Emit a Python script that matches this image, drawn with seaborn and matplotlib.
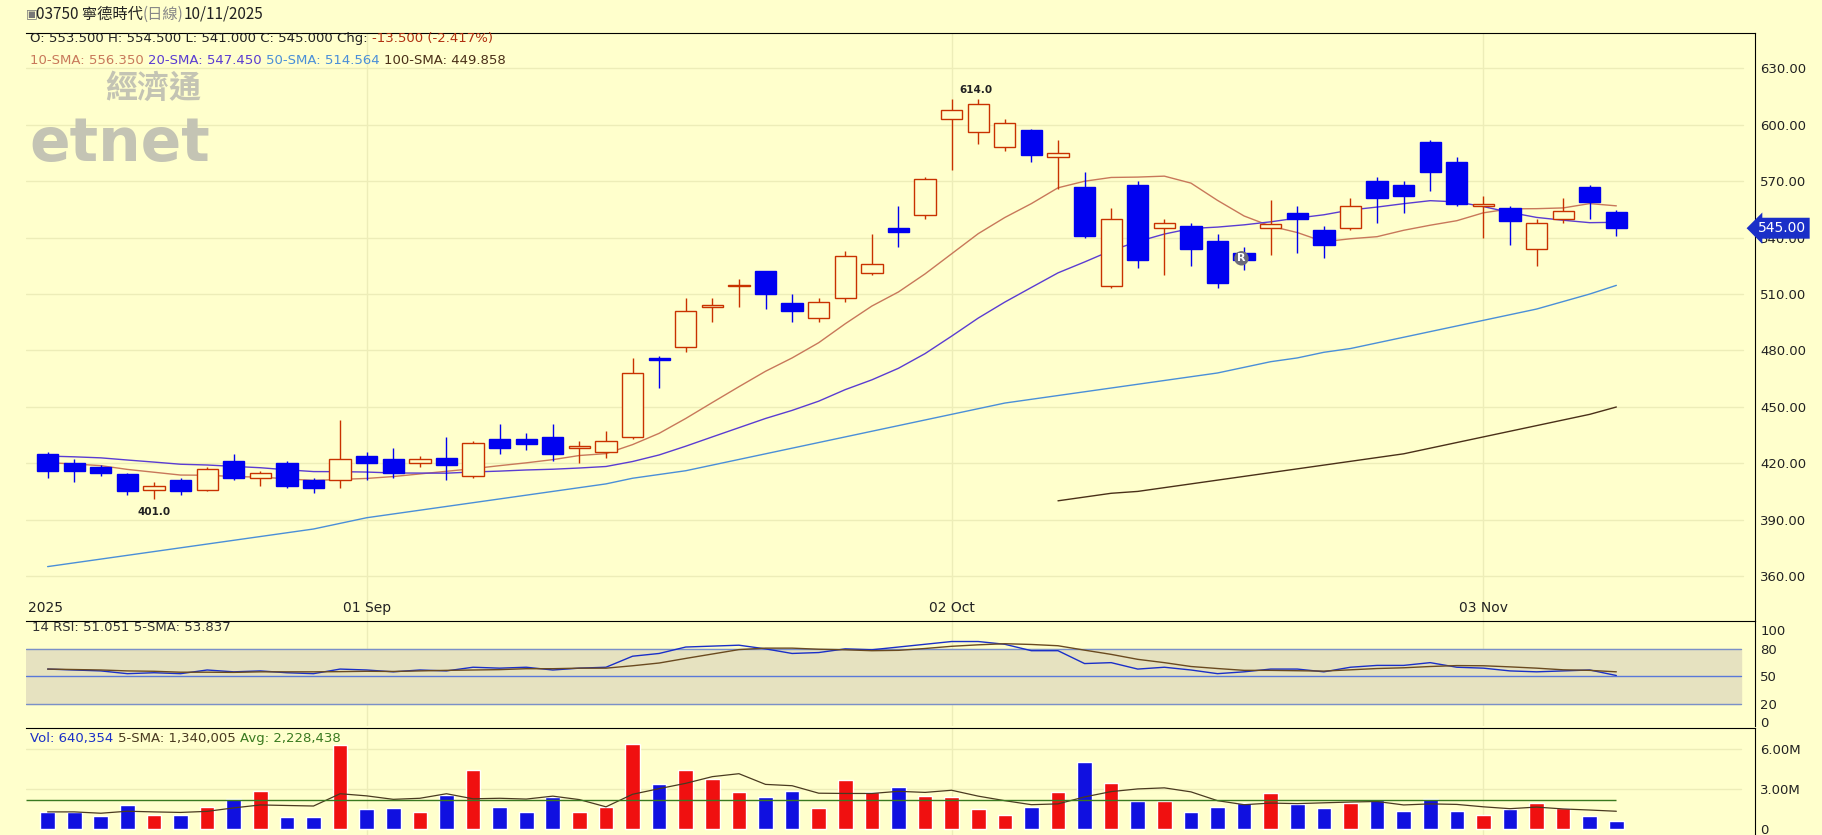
import numpy as np
import pandas as pd
import matplotlib
matplotlib.use("Agg")
import matplotlib.pyplot as plt
import seaborn as sns

# ---- data ----
opens  = [425, 420, 418, 414, 406, 411, 406, 421, 412, 420, 411, 411, 424, 422, 420, 423, 413, 433, 433, 434,
          428, 426, 434, 476, 482, 503, 514, 522, 505, 497, 508, 521, 545, 552, 603, 596, 588, 597, 583, 567,
          514, 568, 545, 546, 538, 532, 545, 553, 544, 545, 570, 568, 591, 580, 557, 556, 534, 550, 567, 553.5]
highs  = [426, 422, 419, 415, 410, 412, 418, 425, 416, 421, 412, 443, 426, 428, 424, 434, 432, 441, 436, 441,
          432, 437, 476, 477, 508, 508, 518, 522, 510, 508, 533, 542, 557, 572, 614, 614, 603, 598, 592, 575,
          556, 570, 550, 548, 542, 535, 560, 557, 546, 561, 572, 570, 592, 583, 562, 557, 550, 561, 568, 554.5]
lows   = [412, 410, 413, 403, 401, 403, 405, 411, 408, 407, 404, 407, 411, 412, 418, 411, 412, 425, 427, 421,
          420, 423, 433, 460, 479, 495, 503, 502, 495, 495, 506, 520, 535, 550, 576, 590, 586, 580, 566, 540,
          513, 524, 520, 525, 513, 523, 531, 532, 529, 544, 548, 553, 565, 557, 540, 536, 525, 548, 550, 541]
closes = [416, 416, 415, 405, 408, 405, 417, 412, 415, 408, 407, 422, 420, 415, 422, 419, 431, 428, 430, 425,
          429, 432, 468, 475, 501, 504, 515, 510, 501, 506, 530, 526, 543, 571, 608, 611, 601, 584, 585, 541,
          550, 528, 548, 534, 516, 528, 547, 550, 536, 557, 561, 562, 575, 558, 558, 549, 548, 554, 559, 545]
prior_closes = [424, 426, 428, 430, 428, 425, 427, 429, 430, 426, 423, 424, 425, 423, 420, 418, 419, 418, 417]

sma50 = [365, 367, 369, 371, 373, 375, 377, 379, 381, 383, 385, 388, 391, 393, 395, 397, 399, 401, 403, 405,
         407, 409, 412, 414, 416, 419, 422, 425, 428, 431, 434, 437, 440, 443, 446, 449, 452, 454, 456, 458,
         460, 462, 464, 466, 468, 471, 474, 476, 479, 481, 484, 487, 490, 493, 496, 499, 502, 506, 510, 514.6]
sma100_start = 38
sma100 = [400, 402, 404, 405, 407, 409, 411, 413, 415, 417, 419, 421, 423, 425, 428, 431, 434, 437, 440, 443, 446, 449.9]

rsi = [58, 57, 56, 53, 54, 53, 57, 55, 56, 54, 53, 58, 57, 55, 57, 56, 60, 59, 60, 57,
       59, 60, 72, 75, 82, 83, 84, 80, 75, 76, 80, 79, 82, 85, 88, 88, 85, 78, 78, 64,
       65, 58, 60, 57, 53, 55, 58, 58, 55, 60, 62, 62, 65, 60, 59, 56, 55, 56, 57, 51]

volume = [1.3, 1.3, 1.0, 1.8, 1.1, 1.1, 1.7, 2.3, 2.9, 0.9, 0.9, 6.3, 1.5, 1.6, 1.3, 2.6, 4.4, 1.7, 1.3, 2.4,
          1.3, 1.7, 6.4, 3.4, 4.4, 3.8, 2.8, 2.4, 2.9, 1.6, 3.7, 2.8, 3.2, 2.5, 2.4, 1.5, 1.1, 1.7, 2.8, 5.0,
          3.5, 2.1, 2.1, 1.3, 1.7, 2.0, 2.7, 1.9, 1.6, 2.0, 2.2, 1.4, 2.3, 1.4, 1.1, 1.5, 2.0, 1.6, 1.0, 0.64]
vol_up = "bbbbrbrbrbbrbbrbrbbbrrrbrrrbbrrrbrrrrbrbrbrbbbrbbrbbbbrbrrbb"
vol_avg = 2.228

date_labels = ["2025", "01 Sep", "02 Oct", "03 Nov"]
date_pos = [-0.75, 12, 34, 54]

# ---- styling ----
BG = "#FFFFCC"
BLUE = "#0000F0"
RED = "#C83200"
sns.set_style("white")
plt.rcParams["font.family"] = ["DejaVu Sans", "Noto Sans CJK TC"]
CJK = ["Noto Sans CJK TC", "DejaVu Sans"]

W, H = 1568, 719
fig = plt.figure(figsize=(18.22, 8.35), dpi=100)
fig.patch.set_facecolor(BG)
renderer = fig.canvas.get_renderer()


def add_ax(top, bottom):
    return fig.add_axes([22 / W, 1 - bottom / H, (1510 - 22) / W, (bottom - top) / H])


ax = add_ax(28, 535)
ax_rsi = add_ax(535, 625)
ax_vol = add_ax(627, 719)

n = len(closes)
idx = np.arange(n)
xlim = (-0.83, 64.2)

for a in (ax, ax_rsi, ax_vol):
    a.set_facecolor(BG)
    a.set_xlim(*xlim)
    a.set_xticks([])
    for s in ["left", "bottom"]:
        a.spines[s].set_visible(False)
    a.spines["top"].set_color("black")
    a.spines["right"].set_color("black")
    a.yaxis.tick_right()
    a.tick_params(axis="y", length=0, labelsize=9.5, colors="#222222", pad=4)
    for p in date_pos[1:]:
        a.axvline(p, color="#EDEDB8", lw=1, zorder=0)

# ---- price panel ----
ax.set_ylim(335.9, 649.1)
yt = np.arange(360, 631, 30)
ax.set_yticks(yt)
ax.set_yticklabels([f"{v:.2f}" for v in yt])
for v in yt:
    ax.axhline(v, xmin=0, xmax=0.993, color="#EDEDB8", lw=1, zorder=0)

# watermark
ax.text(0.046, 0.905, "經濟通", transform=ax.transAxes, fontsize=23, color="#C4C4B4",
        family=["Noto Sans CJK TC"], fontweight="bold", va="center", zorder=1)
ax.text(0.002, 0.81, "etnet", transform=ax.transAxes, fontsize=43, color="#C4C4B4",
        fontweight="bold", va="center", zorder=1)

all_closes = pd.Series(prior_closes + closes)
sma10 = all_closes.rolling(10).mean().iloc[len(prior_closes):].values
sma20 = all_closes.rolling(20, min_periods=1).mean().iloc[len(prior_closes):].values

lines = pd.DataFrame({"x": idx, "sma10": sma10, "sma20": sma20, "sma50": sma50})
sns.lineplot(data=lines, x="x", y="sma10", ax=ax, color="#C8785A", lw=1, zorder=2)
sns.lineplot(data=lines, x="x", y="sma20", ax=ax, color="#5A3CD2", lw=1, zorder=2)
sns.lineplot(data=lines, x="x", y="sma50", ax=ax, color="#4A8FD8", lw=1, zorder=2)
sns.lineplot(x=idx[sma100_start:], y=sma100, ax=ax, color="#4A3018", lw=1, zorder=2)

bw = 0.8
for i in idx:
    o, h, l, c = opens[i], highs[i], lows[i], closes[i]
    up = c >= o
    col = RED if up else BLUE
    ax.vlines(i, l, h, color=col, lw=1, zorder=3)
    lo, hi = min(o, c), max(o, c)
    ax.bar(i, max(hi - lo, 0.8), bottom=lo, width=bw, zorder=4,
           facecolor=BG if up else BLUE, edgecolor=col, lw=1)

ax.text(34.9, 617, "614.0", fontsize=7.5, fontweight="bold", ha="center", color="#222222")
ax.text(4, 396.5, "401.0", fontsize=7.5, fontweight="bold", ha="center", va="top", color="#222222")
ax.text(44.9, 529, "R", fontsize=8, ha="center", va="center", color="white", fontweight="bold",
        bbox=dict(boxstyle="circle,pad=0.2", fc="#6A6A7A", ec="none"), zorder=6)

for lab, p in zip(date_labels, date_pos):
    ax.text(p, 343, lab, fontsize=10, ha="left" if p < 0 else "center", va="center", color="#222222")

ax.text(1.002, (545 - 335.9) / (649.1 - 335.9), "545.00", transform=ax.transAxes, fontsize=10,
        color="white", va="center", ha="left",
        bbox=dict(boxstyle="larrow,pad=0.25", fc="#1A2FC8", ec="none"))


# header text, drawn piece by piece
def colored_line(x0, y, parts, size=9.5):
    x = x0 / W * fig.bbox.width
    yy = (1 - y / H) * fig.bbox.height
    for txt, col, fam in parts:
        t = fig.text(x / fig.bbox.width, yy / fig.bbox.height, txt, fontsize=size,
                     color=col, va="center", family=fam)
        x += t.get_window_extent(renderer).width


colored_line(31, 12, [("03750 寧德時代", "#222222", CJK), ("(日線)", "#888888", CJK),
                      ("10/11/2025", "#222222", CJK)], size=11)
fig.text(22 / W, 1 - 12 / H, "\u25a3", fontsize=9, color="#777777", va="center")
colored_line(26, 33, [("O: 553.500 H: 554.500 L: 541.000 C: 545.000 Chg: ", "#222222", ["DejaVu Sans"]),
                      ("-13.500 (-2.417%)", "#B03010", ["DejaVu Sans"])])
colored_line(26, 52, [("10-SMA: 556.350 ", "#C8785A", ["DejaVu Sans"]),
                      ("20-SMA: 547.450 ", "#5A3CD2", ["DejaVu Sans"]),
                      ("50-SMA: 514.564 ", "#4A8FD8", ["DejaVu Sans"]),
                      ("100-SMA: 449.858", "#4A3018", ["DejaVu Sans"])])
colored_line(26, 636, [("Vol: 640,354 ", "#1A2FC8", ["DejaVu Sans"]),
                       ("5-SMA: 1,340,005 ", "#4A3A20", ["DejaVu Sans"]),
                       ("Avg: 2,228,438", "#3A7A20", ["DejaVu Sans"])])

# ---- RSI panel ----
ax_rsi.set_ylim(-3.8, 110)
ax_rsi.set_yticks([0, 20, 50, 80, 100])
ax_rsi.axhspan(20, 80, xmax=0.992, color="#E6E2C0", zorder=0)
for v, c in [(20, "#7A90C8"), (50, "#5A78D8"), (80, "#7A90C8")]:
    ax_rsi.axhline(v, xmax=0.992, color=c, lw=1, zorder=1)
rsi_sma = pd.Series(rsi).rolling(5, min_periods=1).mean()
sns.lineplot(x=idx, y=rsi, ax=ax_rsi, color="#1A2FC8", lw=1)
sns.lineplot(x=idx, y=rsi_sma.values, ax=ax_rsi, color="#6A4A20", lw=1)
ax_rsi.text(-0.6, 103, "14 RSI: 51.051 5-SMA: 53.837", fontsize=9.5, color="#333333", va="center")

# ---- volume panel ----
ax_vol.set_ylim(-0.43, 7.57)
ax_vol.set_yticks([0, 3, 6])
ax_vol.set_yticklabels(["0", "3.00M", "6.00M"])
for v in [3, 6]:
    ax_vol.axhline(v, xmax=0.992, color="#EDEDB8", lw=1, zorder=0)
vcols = ["#F01010" if c == "r" else "#1010E0" for c in vol_up[:n]]
ax_vol.bar(idx, volume, width=0.55, color=vcols, zorder=2)
vol_sma = pd.Series(volume).rolling(5, min_periods=1).mean()
sns.lineplot(x=idx, y=vol_sma.values, ax=ax_vol, color="#4A3A20", lw=0.9, zorder=3)
ax_vol.hlines(vol_avg, -0.8, n - 1, color="#3A7A20", lw=1, zorder=3)

for a in (ax, ax_rsi, ax_vol):
    a.set_xlabel("")
    a.set_ylabel("")

fig.savefig("out.png", dpi=100, facecolor=BG)
